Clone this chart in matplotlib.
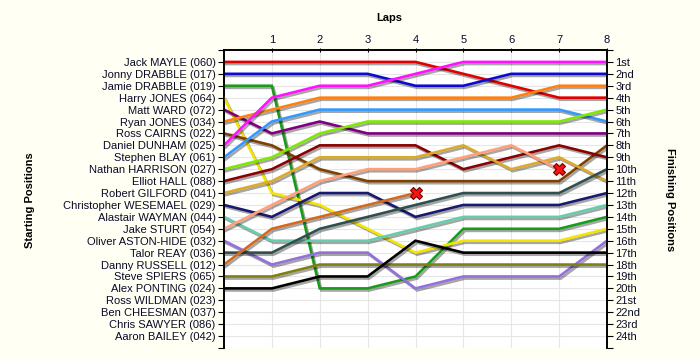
import matplotlib
matplotlib.use("Agg")
import matplotlib.pyplot as plt
import matplotlib.patheffects as pe

drivers = ["Jack MAYLE (060)", "Jonny DRABBLE (017)", "Jamie DRABBLE (019)", "Harry JONES (064)",
           "Matt WARD (072)", "Ryan JONES (034)", "Ross CAIRNS (022)", "Daniel DUNHAM (025)",
           "Stephen BLAY (061)", "Nathan HARRISON (027)", "Elliot HALL (088)", "Robert GILFORD (041)",
           "Christopher WESEMAEL (029)", "Alastair WAYMAN (044)", "Jake STURT (054)",
           "Oliver ASTON-HIDE (032)", "Talor REAY (036)", "Danny RUSSELL (012)", "Steve SPIERS (065)",
           "Alex PONTING (024)", "Ross WILDMAN (023)", "Ben CHEESMAN (037)", "Chris SAWYER (086)",
           "Aaron BAILEY (042)"]

finish_labels = ["1st", "2nd", "3rd", "4th", "5th", "6th", "7th", "8th", "9th", "10th", "11th", "12th",
                 "13th", "14th", "15th", "16th", "17th", "18th", "19th", "20th", "21st", "22nd", "23rd", "24th"]

laps = [0, 1, 2, 3, 4, 5, 6, 7, 8]

# position of each driver after each lap (lap 0 = start)
pos_mayle     = [1, 1, 1, 1, 1, 2, 3, 4, 4]
pos_jdrabble  = [2, 2, 2, 2, 3, 3, 2, 2, 2]
pos_jmdrabble = [3, 3, 20, 20, 19, 15, 15, 15, 14]
pos_hjones    = [4, 12, 13, 15, 17, 16, 16, 16, 15]
pos_ward      = [5, 7, 6, 7, 7, 7, 7, 7, 7]
pos_rjones    = [6, 5, 4, 4, 4, 4, 4, 3, 3]
pos_cairns    = [7, 8, 10, 11, 11, 11, 11, 11, 8]
pos_dunham    = [8, 4, 3, 3, 2, 1, 1, 1, 1]
pos_blay      = [9, 6, 5, 5, 5, 5, 5, 5, 6]
pos_harrison  = [10, 9, 7, 6, 6, 6, 6, 6, 5]
pos_hall      = [11, 10, 8, 8, 8, 10, 9, 8, 9]
pos_gilford   = [12, 11, 9, 9, 9, 8, 10, 9, 11]
pos_wesemael  = [13, 14, 12, 12, 14, 13, 13, 13, 12]
pos_wayman    = [14, 16, 16, 16, 15, 14, 14, 14, 13]
pos_sturt     = [15, 13, 11, 10, 10, 9, 8, 10]
pos_astonhide = [16, 18, 17, 17, 20, 19, 19, 19, 16]
pos_reay      = [17, 17, 15, 14, 13, 12, 12, 12, 10]
pos_russell   = [18, 15, 14, 13, 12]
pos_spiers    = [19, 19, 18, 18, 18, 18, 18, 18, 18]
pos_ponting   = [20, 20, 19, 19, 16, 17, 17, 17, 17]

series = [pos_mayle, pos_jdrabble, pos_jmdrabble, pos_hjones, pos_ward, pos_rjones, pos_cairns,
          pos_dunham, pos_blay, pos_harrison, pos_hall, pos_gilford, pos_wesemael, pos_wayman,
          pos_sturt, pos_astonhide, pos_reay, pos_russell, pos_spiers, pos_ponting]
retired = [False] * 14 + [True] + [False] * 2 + [True] + [False] * 2

colors = ["#e00000", "#0a0ad0", "#1a9a1a", "#f5e400", "#800080", "#ff8010", "#804000", "#ff10ff",
          "#3399ff", "#80e800", "#8b0000", "#dcaa28", "#191970", "#66cdaa", "#ffa07a", "#9370db",
          "#2f4f4f", "#d2691e", "#808010", "#000000"]

bg = "#fffff4"
txt = "#0a0a28"

fig = plt.figure(figsize=(7, 3.6), dpi=100, facecolor=bg)
ax = fig.add_axes([224 / 700, 1 - 348 / 360, (607 - 224) / 700, (348 - 50) / 360])
ax.set_facecolor("white")

for s, c, r in zip(series, colors, retired):
    x = laps[:len(s)]
    ax.plot(x, s, color=c, lw=1.9, solid_joinstyle="miter", zorder=3,
            path_effects=[pe.SimpleLineShadow(offset=(1.2, -1.5), shadow_color="black", alpha=0.35),
                          pe.Normal()])
    if r:
        ax.plot(x[-1], s[-1], marker="X", ms=9, mfc="#ff1010", mec="#700000", mew=0.8, zorder=5)

ax.set_xlim(0, 8)
ax.set_ylim(25, 0)
ax.set_yticks(range(0, 26))
ax.set_yticklabels([""] + drivers + [""], fontsize=8, family="Liberation Sans", color=txt)
ax.set_xticks(laps[1:])
ax.set_xticklabels([str(l) for l in laps[1:]], fontsize=8, family="Liberation Sans", color=txt)
ax.xaxis.tick_top()
ax.tick_params(axis="x", length=3, direction="inout", pad=2)
ax.tick_params(axis="y", length=4, direction="out", pad=2)
ax.grid(True, color="#e6e6e6", lw=0.8, zorder=0)
ax.set_axisbelow(True)
ax.spines["bottom"].set_visible(False)
for sp in ["top", "left", "right"]:
    ax.spines[sp].set_linewidth(1.2)

ax2 = ax.twinx()
ax2.set_ylim(25, 0)
ax2.set_yticks(range(0, 26))
ax2.set_yticklabels([""] + finish_labels + [""], fontsize=8, family="Liberation Sans", color=txt)
ax2.tick_params(axis="y", length=4, direction="out", pad=2)
ax2.spines["bottom"].set_visible(False)
for sp in ["top", "left", "right"]:
    ax2.spines[sp].set_linewidth(1.2)

fig.text(389 / 700, 1 - 18 / 360, "Laps", ha="center", va="center", fontsize=8,
         fontweight="bold", family="Liberation Sans", color="black")
fig.text(30 / 700, 1 - 200 / 360, "Starting Positions", ha="center", va="center", rotation=90,
         fontsize=8, fontweight="bold", family="Liberation Sans", color="black")
fig.text(670 / 700, 1 - 200 / 360, "Finishing Positions", ha="center", va="center", rotation=270,
         fontsize=8, fontweight="bold", family="Liberation Sans", color="black")

fig.savefig("out.png", dpi=100, facecolor=bg)
